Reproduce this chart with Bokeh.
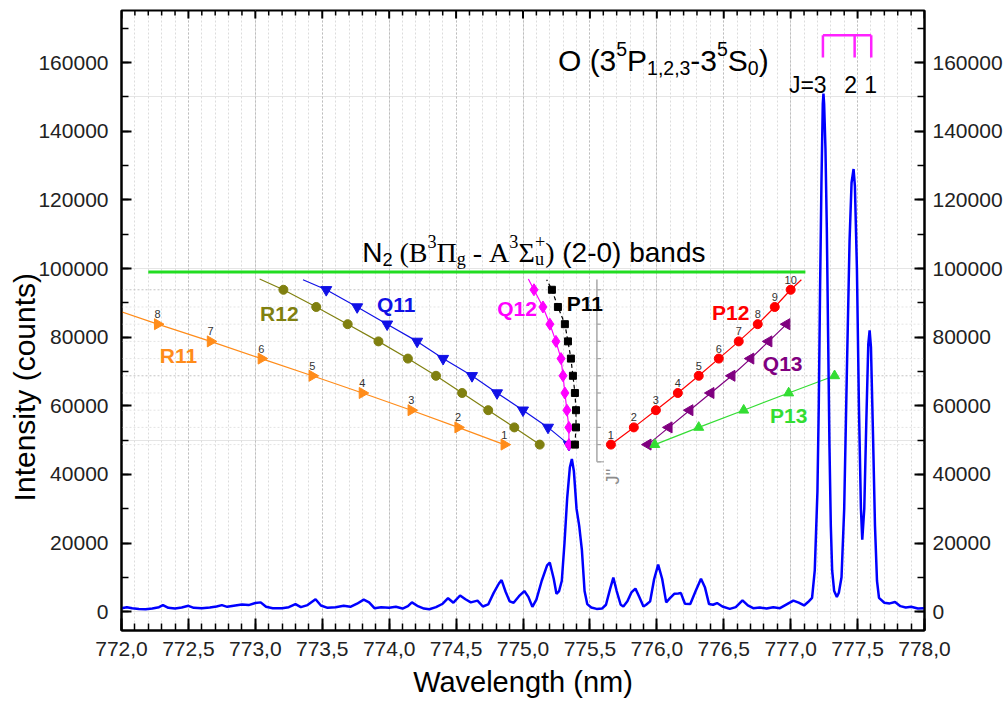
import math
from bokeh.plotting import figure
from bokeh.models import (Range1d, LinearAxis, SingleIntervalTicker, CustomJSTickFormatter,
                          Label, Grid)
from bokeh.embed import file_html
from bokeh.resources import INLINE
from bokeh.core.properties import value

# ---------------- data ----------------
spec_wl = [772.00, 772.04, 772.08, 772.13, 772.18, 772.23, 772.28, 772.31, 772.35, 772.40,
           772.45, 772.50, 772.54, 772.60, 772.66, 772.71, 772.75, 772.79, 772.85, 772.90,
           772.95, 773.00, 773.04, 773.08, 773.13, 773.20, 773.25, 773.30, 773.34, 773.39,
           773.45, 773.49, 773.54, 773.60, 773.66, 773.71, 773.76, 773.81, 773.85, 773.89,
           773.94, 774.00, 774.05, 774.10, 774.14, 774.17, 774.21, 774.26, 774.30, 774.35,
           774.40, 774.44, 774.48, 774.53, 774.57, 774.61, 774.66, 774.70, 774.74, 774.78,
           774.82, 774.84, 774.87, 774.90, 774.93, 774.97, 775.01, 775.04, 775.07, 775.10,
           775.14, 775.18, 775.20, 775.23, 775.25, 775.27, 775.29, 775.31, 775.33, 775.35,
           775.365, 775.38, 775.40, 775.42, 775.44, 775.46, 775.48, 775.51, 775.55, 775.59,
           775.62, 775.65, 775.675, 775.70, 775.73, 775.75, 775.78, 775.81, 775.84, 775.87,
           775.90, 775.92, 775.95, 775.98, 776.01, 776.04, 776.07, 776.10, 776.13, 776.16,
           776.18, 776.21, 776.25, 776.29, 776.33, 776.36, 776.39, 776.42, 776.45, 776.49,
           776.545, 776.59, 776.64, 776.68, 776.72, 776.77, 776.82, 776.87, 776.92, 776.97,
           777.02, 777.06, 777.10, 777.13, 777.16, 777.18, 777.20, 777.21, 777.22, 777.23,
           777.24, 777.245, 777.25, 777.26, 777.27, 777.28, 777.29, 777.30, 777.31, 777.325,
           777.345, 777.36, 777.38, 777.40, 777.42, 777.44, 777.455, 777.47, 777.48, 777.495,
           777.51, 777.525, 777.535, 777.55, 777.565, 777.58, 777.59, 777.60, 777.615, 777.63,
           777.645, 777.66, 777.70, 777.74, 777.78, 777.82, 777.86, 777.90, 777.95, 778.00]
spec_counts = [1000, 1300, 1000, 800, 700, 900, 1300, 1900, 1100, 900,
               1200, 1700, 1100, 1000, 1200, 1500, 1900, 1400, 1800, 2100,
               1900, 2500, 2700, 1400, 1000, 1000, 1300, 2200, 1300, 1900,
               3600, 1800, 1100, 1300, 1700, 1400, 2300, 3500, 2700, 1000,
               1300, 1100, 1400, 900, 1600, 2700, 1700, 900, 700, 1300,
               2300, 3900, 2600, 4700, 3600, 2700, 3200, 1500, 2100, 5400,
               8200, 9200, 5800, 3000, 2600, 4500, 6000, 4300, 1400, 3500,
               9000, 13500, 14300, 9500, 5200, 6000, 9000, 20000, 33000, 42000,
               44500, 41000, 30000, 25000, 18000, 6000, 2200, 1200, 800, 900,
               2000, 6500, 9900, 6000, 2000, 1500, 3000, 5600, 6700, 4200,
               1500, 2000, 3000, 9500, 13700, 9500, 2700, 4000, 5200, 5300,
               5400, 2300, 2200, 6000, 9600, 7000, 2200, 2000, 2500, 1500,
               800, 1300, 3300, 1800, 1000, 1200, 900, 1300, 1000, 2100,
               3200, 2600, 1800, 2800, 4000, 12000, 35000, 60000, 95000, 125000,
               148000, 151000, 148000, 135000, 112000, 80000, 48000, 25000, 12000, 6000,
               4300, 5500, 10000, 30000, 70000, 108000, 125000, 129000, 124000, 100000,
               60000, 30000, 21000, 30000, 55000, 78000, 82000, 77000, 52000, 25000,
               9000, 4000, 2600, 2400, 2800, 1600, 1200, 1400, 900, 1000]

# N2 (2-0) band rotational branches: line wavelength (nm) vs J''
r11_J = [1, 2, 3, 4, 5, 6, 7, 8]
r11_wl = [774.86, 774.515, 774.165, 773.80, 773.425, 773.045, 772.665, 772.27]
r12_J = [1, 2, 3, 4, 5, 6, 7, 8, 9, 10]
r12_wl = [775.125, 774.935, 774.74, 774.545, 774.35, 774.14, 773.92, 773.69, 773.455, 773.21]
q11_J = [1, 2, 3, 4, 5, 6, 7, 8, 9, 10]
q11_wl = [775.343, 775.187, 775.00, 774.806, 774.619, 774.403, 774.209, 773.985, 773.761, 773.53]
q12_J = [1, 2, 3, 4, 5, 6, 7, 8, 9, 10]
q12_wl = [775.343, 775.343, 775.328, 775.313, 775.299, 775.284, 775.246, 775.201, 775.149, 775.082]
p11_J = [1, 2, 3, 4, 5, 6, 7, 8, 9, 10]
p11_wl = [775.388, 775.396, 775.396, 775.388, 775.373, 775.358, 775.336, 775.313, 775.261, 775.216]
p12_J = [1, 2, 3, 4, 5, 6, 7, 8, 9, 10]
p12_wl = [775.657, 775.828, 775.993, 776.157, 776.313, 776.463, 776.612, 776.754, 776.881, 777.00]
q13_J = [1, 2, 3, 4, 5, 6, 7, 8]
q13_wl = [775.933, 776.09, 776.246, 776.403, 776.56, 776.701, 776.836, 776.97]
p13_J = [1, 2, 3, 4, 5]
p13_wl = [775.985, 776.313, 776.649, 776.985, 777.328]

# where each branch line leaves the inset (wavelength, J'')
r11_tail = (771.896, 9.0)
r12_tail = (773.032, 10.63)
q11_tail = (773.356, 10.58)
q12_tail = (775.04, 10.63)
p11_tail = (775.177, 10.58)
p12_tail = (777.08, 10.58)

inset_J_ticks = [0, 1, 2, 3, 4, 5, 6, 7, 8, 9, 10]
inset_J_major = [5, 10]
inset_J_minor = [1, 2, 3, 4, 6, 7, 8, 9]

n2_band_extent = [772.2, 777.11]
n2_band_level = 99000
o_lines_wl = [777.241, 777.478, 777.602]
o_bracket_top = 168000
o_bracket_bottom = 161500
o_J_labels = ["J=3", "2", "1"]

# ---------------- layout ----------------
W, H = 1005, 707
FL, FR, FT, FB = 121, 925, 10, 630
X0, X1 = 772.0, 778.0
Y0, Y1 = -5500, 175200
C0, CJ = 43666, 5014  # inset J'' axis calibration in counts
NB = "\u00a0"

def X(px):
    return X0 + (px - FL) / (FR - FL) * (X1 - X0)

def Y(py):
    return Y1 - (py - FT) / (FB - FT) * (Y1 - Y0)

p = figure(width=W, height=H, x_range=Range1d(X0, X1), y_range=Range1d(Y0, Y1),
           output_backend="svg", toolbar_location=None,
           x_axis_location=None, y_axis_location=None,
           min_border_left=FL, min_border_right=W - FR, min_border_top=FT,
           min_border_bottom=H - FB)
p.outline_line_color = "black"
p.outline_line_width = 2
p.background_fill_color = "white"
p.border_fill_color = "white"
p.extra_y_ranges = {"J": Range1d(start=(Y0 - C0) / CJ, end=(Y1 - C0) / CJ)}

FONT = "Liberation Sans"
SERIF = "Liberation Serif"

xt = SingleIntervalTicker(interval=0.5, num_minor_ticks=5)
yt = SingleIntervalTicker(interval=20000, num_minor_ticks=2)
xfmt = CustomJSTickFormatter(code="return tick.toFixed(1).replace('.', ',');")
yfmt = CustomJSTickFormatter(code="return tick.toFixed(0);")

def style_axis(ax, tick_in, minor_in, label_size, standoff):
    ax.axis_line_width = 2
    ax.axis_line_color = "black"
    ax.major_tick_in = tick_in
    ax.major_tick_out = 0
    ax.minor_tick_in = minor_in
    ax.minor_tick_out = 0
    ax.major_tick_line_width = 2
    ax.minor_tick_line_width = 1.5
    ax.major_label_text_font = FONT
    ax.major_label_text_font_size = label_size
    ax.major_label_text_color = "#222222"
    ax.major_label_standoff = standoff
    ax.axis_label_text_font = FONT
    ax.axis_label_text_font_style = "normal"
    ax.axis_label_text_color = "black"

bx = LinearAxis(ticker=xt, formatter=xfmt, axis_label="Wavelength (nm)")
style_axis(bx, 12, 7, "21px", 11)
bx.axis_label_text_font_size = "29px"
bx.axis_label_standoff = 7
p.add_layout(bx, "below")

ly = LinearAxis(ticker=yt, formatter=yfmt,
                axis_label="Intensity (counts)" + NB * 16)
style_axis(ly, 10, 7, "21px", 13)
ly.axis_label_text_font_size = "30px"
ly.axis_label_standoff = -6
p.add_layout(ly, "left")

ry = LinearAxis(ticker=yt, formatter=yfmt)
style_axis(ry, 10, 7, "21px", 8)
p.add_layout(ry, "right")

g = Grid(dimension=0, ticker=xt)
g.grid_line_color = "#bdbdbd"
g.grid_line_dash = "2 2"
g.minor_grid_line_color = "#dcdcdc"
g.minor_grid_line_dash = "2 2"
p.add_layout(g, "center")

# top frame ticks (no labels)
top_major = [X0 + 0.5 * i for i in range(13)]
top_minor = [X0 + 0.1 * i for i in range(61) if i % 5]
p.ray(x=top_major, y=[Y1] * len(top_major), length=8, angle=-math.pi / 2,
      length_units="screen", line_color="black", line_width=2)
p.ray(x=top_minor, y=[Y1] * len(top_minor), length=5, angle=-math.pi / 2,
      length_units="screen", line_color="black", line_width=1.5)

# inset horizontal grid (J'')
p.segment(x0=[X0] * len(inset_J_minor), x1=[X1] * len(inset_J_minor), y0=inset_J_minor,
          y1=inset_J_minor, y_range_name="J", line_color="#e4e4e4", line_dash="2 2", line_width=1)
p.segment(x0=[X0] * len(inset_J_major), x1=[X1] * len(inset_J_major), y0=inset_J_major,
          y1=inset_J_major, y_range_name="J", line_color="#c4c4c4", line_dash="2 2", line_width=1)

# inset J'' axis
inset_x = X(597)
p.segment(x0=[inset_x], x1=[inset_x], y0=[0], y1=[10.6], y_range_name="J",
          line_color="#a8a8a8", line_width=1.5)
p.ray(x=[inset_x] * len(inset_J_ticks), y=inset_J_ticks, length=4, angle=0,
      length_units="screen", y_range_name="J", line_color="#a8a8a8", line_width=1.2)
p.ray(x=[inset_x], y=[0], length=7, angle=0, length_units="screen", y_range_name="J",
      line_color="#a8a8a8", line_width=1.2)

# green band marker line
p.line(x=n2_band_extent, y=[n2_band_level, n2_band_level], line_color="#22dd22", line_width=3)

def branch(wl, J, tail, color, marker, size, angle=0.0, dash="solid"):
    lx = list(wl) + ([tail[0]] if tail else [])
    ly_ = list(J) + ([tail[1]] if tail else [])
    p.line(x=lx, y=ly_, y_range_name="J", line_color=color, line_width=1.2, line_dash=dash)
    p.scatter(x=wl, y=J, y_range_name="J", marker=marker, size=size, fill_color=color,
              line_color=color, angle=angle)

ORANGE = "#ff8c1a"
OLIVE = "#808010"
BLUE = "#1010e6"
MAGENTA = "#ff00ff"
RED = "#ff0000"
PURPLE = "#800080"
GREEN = "#33dd33"

branch(r11_wl, r11_J, r11_tail, ORANGE, "triangle", 11, angle=-math.pi / 2)
branch(r12_wl, r12_J, r12_tail, OLIVE, "circle", 9)
branch(q11_wl, q11_J, q11_tail, BLUE, "inverted_triangle", 11)
branch(q12_wl, q12_J, q12_tail, MAGENTA, "diamond", 12)
branch(p11_wl, p11_J, p11_tail, "black", "square", 7, dash="4 3")
branch(p12_wl, p12_J, p12_tail, RED, "circle", 9)
branch(q13_wl, q13_J, None, PURPLE, "triangle", 11, angle=math.pi / 2)
branch(p13_wl, p13_J, None, GREEN, "triangle", 10)

# J numbers
p.text(x=r11_wl, y=r11_J, text=[str(j) for j in r11_J], y_range_name="J",
       text_font=value(FONT), text_font_size="11px", text_color="#333333",
       text_align="center", text_baseline="bottom", y_offset=-6)
p.text(x=p12_wl, y=p12_J, text=[str(j) for j in p12_J], y_range_name="J",
       text_font=value(FONT), text_font_size="11px", text_color="#333333",
       text_align="center", text_baseline="bottom", y_offset=-6)

# spectrum
p.line(x=spec_wl, y=spec_counts, line_color="#0000ff", line_width=2.5)

# O triplet bracket
p.segment(x0=[o_lines_wl[0]], x1=[o_lines_wl[-1]], y0=[o_bracket_top], y1=[o_bracket_top],
          line_color="#ff22ff", line_width=2.5)
p.segment(x0=o_lines_wl, x1=o_lines_wl, y0=[o_bracket_top] * 3, y1=[o_bracket_bottom] * 3,
          line_color="#ff22ff", line_width=2.5)

# ---------------- text ----------------
def lab(px, py, text, size, color="black", font=FONT, style="normal", align="center",
        baseline="middle", angle=0.0):
    p.add_layout(Label(x=X(px), y=Y(py), text=text, text_font=font, text_font_size=f"{size}px",
                       text_color=color, text_font_style=style, text_align=align,
                       text_baseline=baseline, angle=angle))

WID = {
    FONT: {'N': .722, '2': .556, NB: .278, '(': .333, ')': .333, '-': .333, '0': .556,
           '1': .556, '3': .556, '5': .556, ',': .278, 'b': .556, 'a': .556, 'n': .556,
           'd': .556, 's': .5, 'O': .778, 'P': .667, 'S': .667},
    SERIF: {'(': .333, ')': .333, 'B': .667, '3': .5, 'Π': .722, 'g': .5, NB: .25, '-': .333,
            'A': .722, 'Σ': .592, '+': .564, 'u': .5},
}

def tw(t, font, size):
    return sum(WID[font].get(c, .55) for c in t) * size

def flow(x, base, size, segs):
    for seg in segs:
        if seg[0] == "stack":
            _, sup, sub, font = seg
            s = size * 0.65
            lab(x, base - 0.38 * size, sup, s, font=font, align="left", baseline="alphabetic")
            lab(x, base + 0.24 * size, sub, s, font=font, align="left", baseline="alphabetic")
            x += max(tw(sup, font, s), tw(sub, font, s))
            continue
        t, font, kind = seg
        if kind == "sup":
            s, b = size * 0.65, base - 0.38 * size
        elif kind == "sub":
            s, b = size * 0.65, base + 0.24 * size
        else:
            s, b = size, base
        lab(x, b, t, s, font=font, align="left", baseline="alphabetic")
        x += tw(t, font, s)

flow(362, 252, 28, [("N", FONT, "n"), ("2", FONT, "sub"),
                    (NB + "(", SERIF, "n"), ("B", SERIF, "n"), ("3", SERIF, "sup"),
                    ("Π", SERIF, "n"), ("g", SERIF, "sub"), (NB + "-" + NB, SERIF, "n"),
                    ("A", SERIF, "n"), ("3", SERIF, "sup"), ("Σ", SERIF, "n"),
                    ("stack", "+", "u", SERIF), (")", SERIF, "n"),
                    (NB + "(2-0)" + NB + "bands", FONT, "n")])

flow(558, 60, 30, [("O" + NB + "(3", FONT, "n"), ("5", FONT, "sup"), ("P", FONT, "n"),
                   ("1,2,3", FONT, "sub"), ("-3", FONT, "n"), ("5", FONT, "sup"),
                   ("S", FONT, "n"), ("0", FONT, "sub"), (")", FONT, "n")])

lab(827, 84, o_J_labels[0], 23, align="right", baseline="alphabetic")
lab(851, 84, o_J_labels[1], 23, align="center", baseline="alphabetic")
lab(871, 84, o_J_labels[2], 23, align="center", baseline="alphabetic")

# branch names
lab(178, 355, "R11", 21, ORANGE, style="bold")
lab(279, 313, "R12", 21, OLIVE, style="bold")
lab(396, 304, "Q11", 21, BLUE, style="bold")
lab(517, 308, "Q12", 21, MAGENTA, style="bold")
lab(585, 303, "P11", 21, "black", style="bold")
lab(731, 312, "P12", 21, RED, style="bold")
lab(783, 363, "Q13", 21, PURPLE, style="bold")
lab(789, 415, "P13", 21, GREEN, style="bold")

lab(613, 476, "J''", 18, "#8c8c8c", angle=math.pi / 2)

open("out.html", "w").write(file_html(p, INLINE))
